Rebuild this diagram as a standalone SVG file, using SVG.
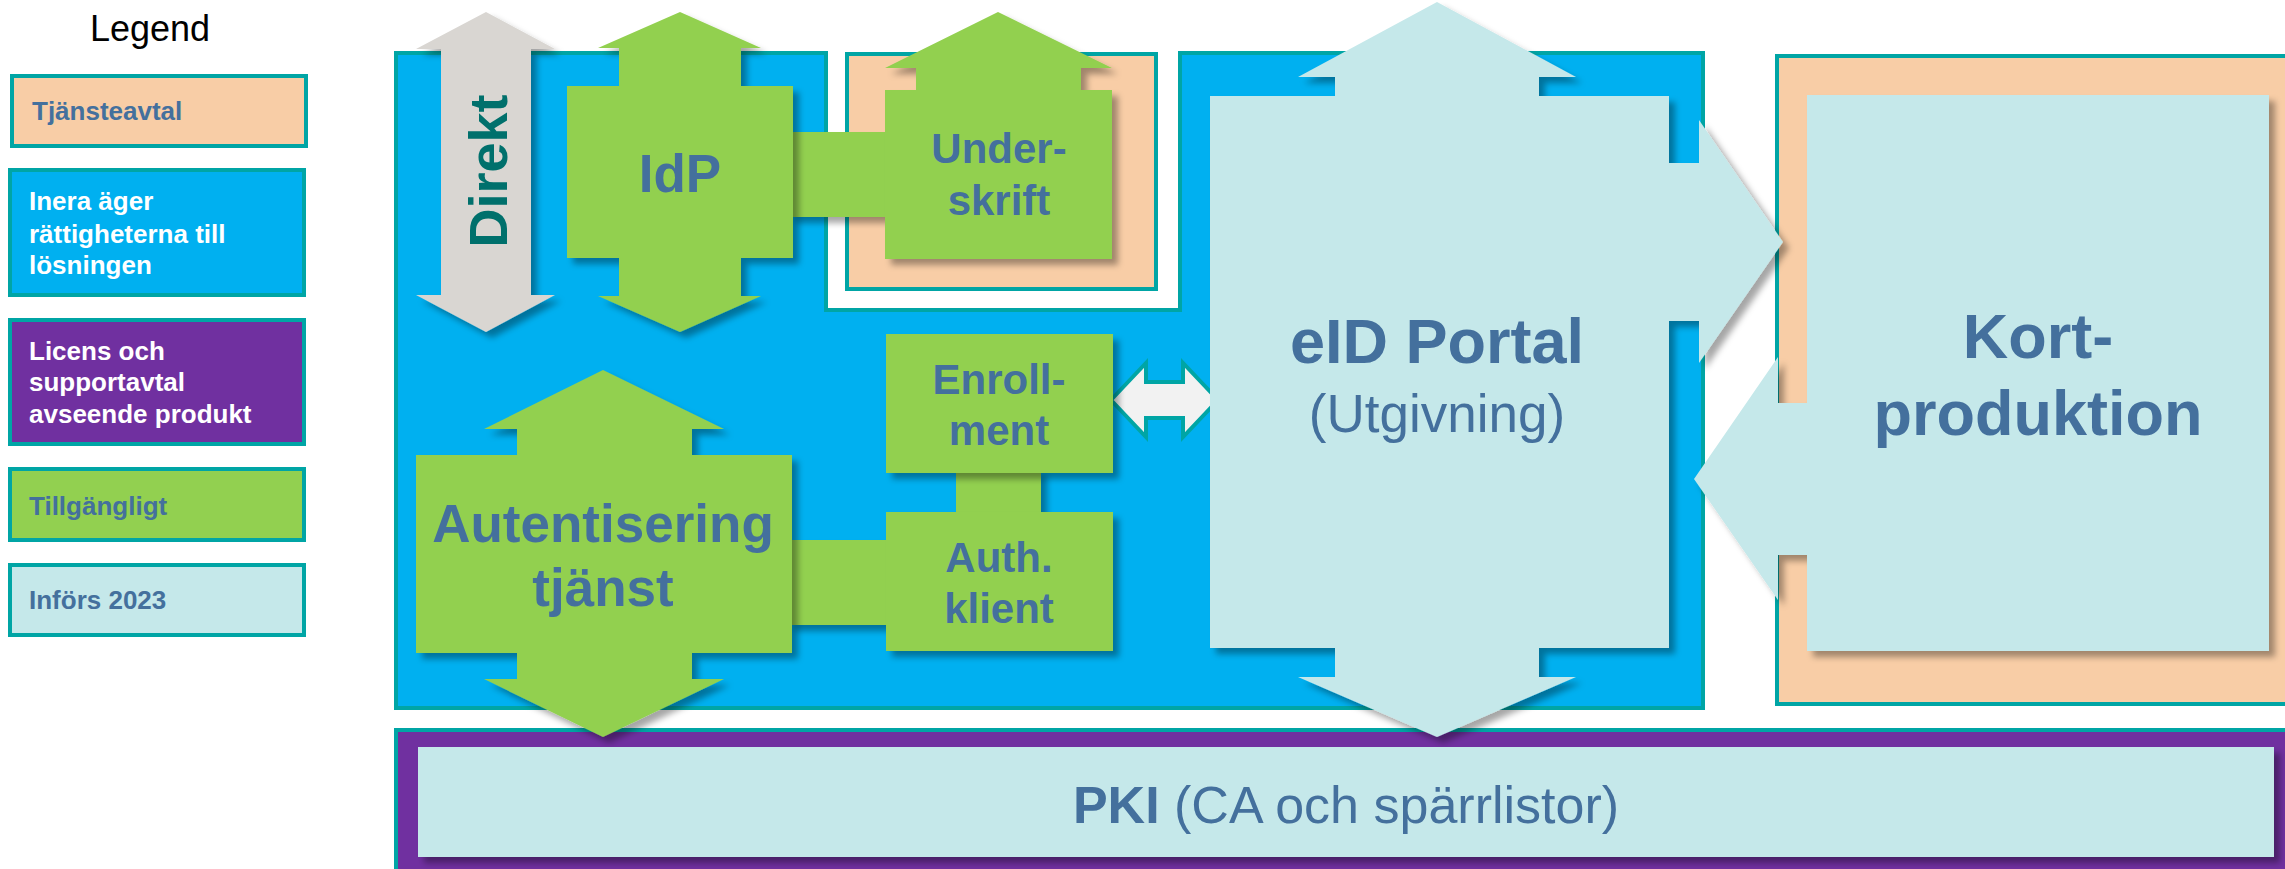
<svg xmlns="http://www.w3.org/2000/svg" width="2285" height="869" viewBox="0 0 2285 869">
<style>
text{font-family:"Liberation Sans",Arial,sans-serif}
.lg{stroke:#00a5a5;stroke-width:4}
.ct{stroke:#00a5a5;stroke-width:4}
.lt{font-size:26px;font-weight:bold}
.nt{fill:#44709d;font-weight:bold;text-anchor:middle}
.g{fill:#92d050}
.c{fill:#c5e8ea}
</style>
<defs>
<filter id="sh" x="-20%" y="-20%" width="140%" height="140%">
<feDropShadow dx="6" dy="6" stdDeviation="3" flood-color="#000" flood-opacity="0.35"/>
</filter>
</defs>
<rect width="2285" height="869" fill="#fff"/>

<g id="legend">
<text x="150" y="41" font-size="36" text-anchor="middle" fill="#000">Legend</text>
<rect class="lg" x="12" y="76" width="294" height="70" fill="#f8cda6"/>
<text class="lt" x="32" y="120" fill="#44709d">Tjänsteavtal</text>
<rect class="lg" x="10" y="170" width="294" height="125" fill="#00b0f0"/>
<text class="lt" fill="#fff"><tspan x="29" y="210">Inera äger</tspan><tspan x="29" y="243">rättigheterna till</tspan><tspan x="29" y="274">lösningen</tspan></text>
<rect class="lg" x="10" y="320" width="294" height="124" fill="#7030a0"/>
<text class="lt" fill="#fff"><tspan x="29" y="360">Licens och</tspan><tspan x="29" y="391">supportavtal</tspan><tspan x="29" y="423">avseende produkt</tspan></text>
<rect class="lg" x="10" y="469" width="294" height="71" fill="#92d050"/>
<text class="lt" x="29" y="515" fill="#44709d">Tillgängligt</text>
<rect class="lg" x="10" y="565" width="294" height="70" fill="#c5e8ea"/>
<text class="lt" x="29" y="609" fill="#44709d">Införs 2023</text>
</g>

<g id="inera-area">
<path class="ct" d="M396,53 H826 V310 H1180 V53 H1703 V708 H396 Z" fill="#00b0f0"/>
</g>
<g id="tjanst-underskrift">
<rect class="ct" x="847" y="54" width="309" height="235" fill="#f8cda6"/>
</g>
<g id="tjanst-kort">
<rect class="ct" x="1777" y="56" width="515" height="648" fill="#f8cda6"/>
</g>
<g id="pki-area">
<rect class="ct" x="396" y="730" width="1896" height="145" fill="#7030a0"/>
</g>

<g id="connectors">
<rect class="g" x="790" y="132" width="98" height="85" filter="url(#sh)"/>
<rect class="g" x="789" y="540" width="100" height="85" filter="url(#sh)"/>
<rect class="g" x="956" y="470" width="85" height="45" filter="url(#sh)"/>
<polygon points="1111,400 1146,363 1146,382 1183,382 1183,363 1218,400 1183,437 1183,418 1146,418 1146,437" fill="#f2f2f2" stroke="#00a5a5" stroke-width="4" stroke-linejoin="miter"/>
</g>

<g id="direkt">
<polygon points="486,12 555,49 531,49 531,295 555,295 486,332 416,295 441,295 441,49 416,49" fill="#d9d6d2" filter="url(#sh)"/>
<text transform="translate(507,171) rotate(-90)" font-size="54" font-weight="bold" fill="#00706c" text-anchor="middle">Direkt</text>
</g>

<g id="idp">
<polygon class="g" points="680,12 761,48 741,48 741,86 793,86 793,258 741,258 741,296 761,296 680,332 598,296 619,296 619,258 567,258 567,86 619,86 619,48 598,48" filter="url(#sh)"/>
<text class="nt" x="680" y="192" font-size="53">IdP</text>
</g>

<g id="underskrift">
<polygon class="g" points="998,12 1112,68 1081,68 1081,90 1112,90 1112,259 885,259 885,90 916,90 916,68 885,68" filter="url(#sh)"/>
<text class="nt" font-size="42"><tspan x="999" y="163">Under-</tspan><tspan x="999" y="215">skrift</tspan></text>
</g>

<g id="enrollment">
<rect class="g" x="886" y="334" width="227" height="139" filter="url(#sh)"/>
<text class="nt" font-size="42"><tspan x="999" y="394">Enroll-</tspan><tspan x="999" y="445">ment</tspan></text>
</g>

<g id="auth-klient">
<rect class="g" x="886" y="512" width="227" height="139" filter="url(#sh)"/>
<text class="nt" font-size="42"><tspan x="999" y="572">Auth.</tspan><tspan x="999" y="623">klient</tspan></text>
</g>

<g id="autentisering">
<polygon class="g" points="603,370 724,429 692,429 692,455 792,455 792,653 692,653 692,679 724,679 603,737 484,679 517,679 517,653 416,653 416,455 517,455 517,429 484,429" filter="url(#sh)"/>
<text class="nt" font-size="53"><tspan x="603" y="542">Autentisering</tspan><tspan x="603" y="606">tjänst</tspan></text>
</g>

<g id="eid-portal">
<polygon class="c" points="1210,96 1335,96 1335,77 1298,77 1437,2 1576,77 1539,77 1539,96 1669,96 1669,163 1699,163 1699,120 1783,242 1699,363 1699,321 1669,321 1669,648 1539,648 1539,677 1576,677 1437,737 1298,677 1335,677 1335,648 1210,648" filter="url(#sh)"/>
<text class="nt" x="1437" y="363" font-size="63">eID Portal</text>
<text x="1437" y="432" font-size="53" fill="#44709d" text-anchor="middle">(Utgivning)</text>
</g>

<g id="kortproduktion">
<polygon class="c" points="1807,95 2269,95 2269,651 1807,651 1807,555 1778,555 1778,600 1694,479 1778,357 1778,403 1807,403" filter="url(#sh)"/>
<text class="nt" font-size="63"><tspan x="2038" y="358">Kort-</tspan><tspan x="2038" y="435">produktion</tspan></text>
</g>

<g id="pki">
<rect class="c" x="418" y="747" width="1856" height="110" filter="url(#sh)"/>
<text x="1346" y="823" font-size="52" fill="#44709d" text-anchor="middle"><tspan font-weight="bold">PKI</tspan> (CA och spärrlistor)</text>
</g>
</svg>
